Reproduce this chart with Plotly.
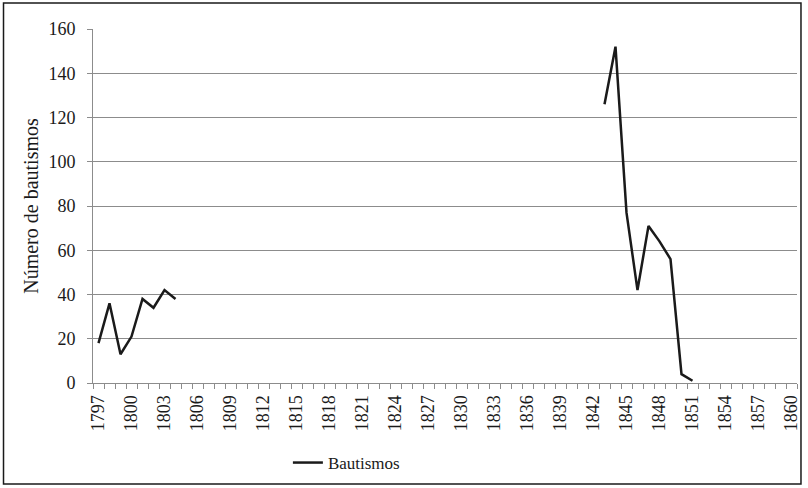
import plotly.graph_objects as go

# Baptisms per year, 1797-1860 (None = no record for that year)
years = list(range(1797, 1861))
early_values = {1797: 18, 1798: 36, 1799: 13, 1800: 21, 1801: 38, 1802: 34, 1803: 42, 1804: 38}
late_values = {1843: 126, 1844: 152, 1845: 77, 1846: 42, 1847: 71, 1848: 64, 1849: 56, 1850: 4, 1851: 1}
bautismos = [early_values.get(y, late_values.get(y)) for y in years]

label_years = list(range(1797, 1861, 3))
y_ticks = list(range(0, 161, 20))

FONT = "Liberation Serif"
GRID = "#8c8c8c"

fig = go.Figure()
fig.add_trace(go.Scatter(
    x=years, y=bautismos, mode="lines", name="Bautismos",
    line=dict(color="#1a1a1a", width=2.5), connectgaps=False,
))

L, R, T, B = 93, 7, 29, 105
W, H = 808, 488
pw, ph = W - L - R, H - T - B

fig.update_layout(
    width=W, height=H,
    margin=dict(l=L, r=R, t=T, b=B),
    paper_bgcolor="white", plot_bgcolor="white",
    font=dict(family=FONT, size=18, color="#1a1a1a"),
    showlegend=True,
    legend=dict(orientation="h", x=(289 - L) / pw, xanchor="left",
                y=-(463 - (T + ph)) / ph, yanchor="middle",
                font=dict(family=FONT, size=17), bgcolor="rgba(0,0,0,0)"),
    xaxis=dict(
        range=[1796.5, 1860.5], tickmode="array", tickvals=label_years,
        ticktext=[str(y) for y in label_years], tickangle=-90,
        ticks="", showgrid=False, zeroline=False,
        showline=True, linecolor=GRID, linewidth=1,
        minor=dict(tick0=1796.5, dtick=1, ticks="outside", ticklen=5,
                   tickcolor=GRID, showgrid=False),
        tickfont=dict(family=FONT, size=18), ticklabelstandoff=4,
    ),
    yaxis=dict(
        range=[0, 160], tickvals=y_ticks, ticks="outside", ticklen=5,
        tickcolor=GRID, showgrid=True, gridcolor=GRID, gridwidth=1,
        zeroline=False, showline=True, linecolor=GRID, linewidth=1,
        title=dict(text="Número de bautismos", font=dict(family=FONT, size=20), standoff=4),
        tickfont=dict(family=FONT, size=18), ticklabelstandoff=8,
    ),
)

# chart-area frame
fig.add_shape(type="rect", xref="paper", yref="paper",
              x0=(3 - L) / pw, x1=(805 - L) / pw,
              y0=-(484 - (T + ph)) / ph, y1=1 + (T - 3) / ph,
              line=dict(color="#1a1a1a", width=1.5))

fig.write_html("out.html")
